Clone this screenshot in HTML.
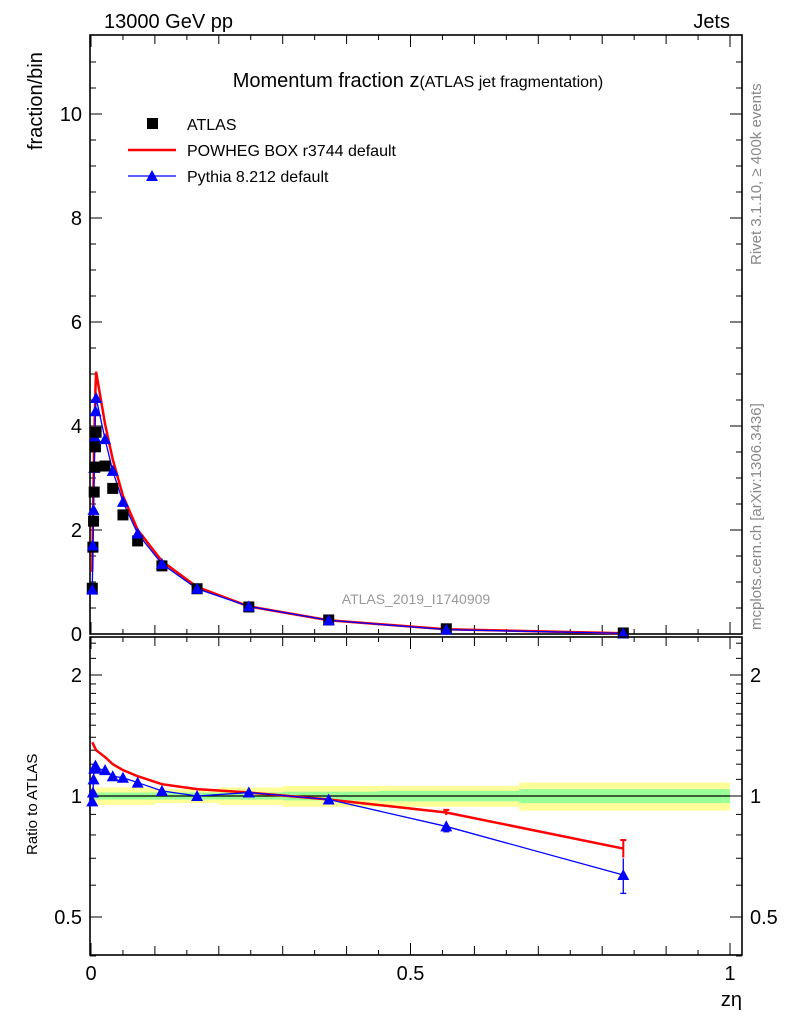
<!DOCTYPE html>
<html><head><meta charset="utf-8"><style>
body{margin:0;background:#fff;}
svg text{font-family:"Liberation Sans",sans-serif;}
</style></head><body>
<svg id="chart" width="786" height="1024" xmlns="http://www.w3.org/2000/svg">
<text x="104" y="28" font-size="20">13000 GeV pp</text>
<text x="730" y="28" font-size="20" text-anchor="end">Jets</text>
<text x="418" y="87" font-size="20" text-anchor="middle">Momentum fraction z<tspan font-size="16">(ATLAS jet fragmentation)</tspan></text>
<text transform="translate(42,150) rotate(-90)" font-size="20" text-anchor="start">fraction/bin</text>
<text transform="translate(37,855) rotate(-90)" font-size="15">Ratio to ATLAS</text>
<text x="742" y="1006" font-size="20" text-anchor="end">zη</text>
<text transform="translate(761,265) rotate(-90)" font-size="15" fill="#888">Rivet 3.1.10, ≥ 400k events</text>
<text transform="translate(761,630) rotate(-90)" font-size="15" fill="#888">mcplots.cern.ch [arXiv:1306.3436]</text>
<text x="416" y="604" font-size="14" fill="#999" text-anchor="middle">ATLAS_2019_I1740909</text>
<g id="main"></g>
<g id="ratio"></g>
<g id="legend">
<rect x="147" y="118" width="11" height="11" fill="#000"/>
<text x="187" y="130" font-size="16">ATLAS</text>
<line x1="128" y1="150" x2="176" y2="150" stroke="red" stroke-width="2.5"/>
<text x="187" y="156" font-size="16">POWHEG BOX r3744 default</text>
<line x1="128" y1="176" x2="176" y2="176" stroke="#00f" stroke-width="1.3"/>
<polygon points="152,170 146,181 158,181" fill="#00f"/>
<text x="187" y="182" font-size="16">Pythia 8.212 default</text>
</g>
</svg>
<script>
const xs=[0.002,0.003,0.004,0.005,0.006,0.007,0.008,0.022,0.034,0.05,0.073,0.111,0.166,0.247,0.372,0.556,0.833];
const atlas=[0.88,1.67,2.17,2.73,3.21,3.6,3.88,3.23,2.8,2.29,1.79,1.31,0.87,0.52,0.27,0.1,0.02];
const ratioPowheg=[1.36,1.35,1.34,1.33,1.32,1.31,1.3,1.25,1.2,1.16,1.12,1.07,1.04,1.02,0.98,0.91,0.74];
const ratioPythia=[0.97,1.02,1.1,1.17,1.18,1.19,1.17,1.16,1.12,1.11,1.08,1.03,1.0,1.02,0.98,0.84,0.636];
const bandEdges=[0,0.1,0.2,0.3,0.45,0.67,1.0];
const bandYellow=[0.05,0.04,0.05,0.06,0.06,0.08];
const bandGreen=[0.02,0.02,0.02,0.025,0.03,0.04];
const yTicks=[0,2,4,6,8,10];
const rTicks=[0.5,1,2];
const xTicks=[0,0.5,1];

const NS="http://www.w3.org/2000/svg";
const X=v=>91+639*v;
const Y=v=>634-52*v;
const R=v=>796-121*Math.log2(v);
function mk(p,t,a){const e=document.createElementNS(NS,t);for(const k in a)e.setAttribute(k,a[k]);p.appendChild(e);return e;}
const main=document.getElementById('main'),ratio=document.getElementById('ratio');
const FL=90,FR=742,MT=35,MB=634,RT=637,RB=955;

for(let i=0;i<bandYellow.length;i++){
  const r1=mk(ratio,'rect',{x:X(bandEdges[i]),width:X(bandEdges[i+1])-X(bandEdges[i]),y:R(1+bandYellow[i]),height:R(1-bandYellow[i])-R(1+bandYellow[i]),fill:'#ffff99'});
  
  
  const r2=mk(ratio,'rect',{x:X(bandEdges[i]),width:X(bandEdges[i+1])-X(bandEdges[i]),y:R(1+bandGreen[i]),height:R(1-bandGreen[i])-R(1+bandGreen[i]),fill:'#99ff99'});
  
  
}
const one=mk(ratio,'line',{x1:X(0),x2:X(1),y1:R(1),y2:R(1),stroke:'#000','stroke-width':1.3});



const f1=mk(main,'rect',{x:FL,y:MT,width:FR-FL,height:MB-MT,fill:'none',stroke:'#000','stroke-width':1.6});


const f2=mk(ratio,'rect',{x:FL,y:RT,width:FR-FL,height:RB-RT,fill:'none',stroke:'#000','stroke-width':1.6});



for(let v=0;v<=11.4;v+=0.5){const big=Math.abs(v-Math.round(v/2)*2)<1e-6;const L=big?12:6;
  mk(main,'line',{x1:FL,x2:FL+L,y1:Y(v),y2:Y(v),stroke:'#000'});mk(main,'line',{x1:FR,x2:FR-L,y1:Y(v),y2:Y(v),stroke:'#000'});}
yTicks.forEach(v=>{const t=mk(main,'text',{x:82,y:Y(v)+7,'font-size':20,'text-anchor':'end'});t.textContent=v;
  
  });
[0.4,0.5,0.6,0.7,0.8,0.9,1,1.1,1.2,1.3,1.4,1.5,1.6,1.7,1.8,1.9,2,2.2,2.4].forEach(v=>{const big=rTicks.includes(v);const L=big?12:6;
  mk(ratio,'line',{x1:FL,x2:FL+L,y1:R(v),y2:R(v),stroke:'#000'});mk(ratio,'line',{x1:FR,x2:FR-L,y1:R(v),y2:R(v),stroke:'#000'});});
rTicks.forEach(v=>{[[82,'end'],[750,'start']].forEach(([x,a])=>{const t=mk(ratio,'text',{x:x,y:R(v)+7,'font-size':20,'text-anchor':a});t.textContent=v;
  
  });});
for(let i=0;i<=20;i++){const v=i*0.05;const big=i%10==0;const mid=i%2==0;const L=big?12:(mid?9:5);
  [[MB,-1],[MT,1],[RB,-1],[RT,1]].forEach(([y,d])=>mk(main,'line',{x1:X(v),x2:X(v),y1:y,y2:y+d*L,stroke:'#000'}));}
xTicks.forEach(v=>{const t=mk(ratio,'text',{x:X(v),y:980,'font-size':20,'text-anchor':'middle'});t.textContent=v;
  
  });

const powheg=xs.map((x,i)=>atlas[i]*ratioPowheg[i]);
const pythia=xs.map((x,i)=>atlas[i]*ratioPythia[i]);
const pr=mk(main,'polyline',{points:xs.map((x,i)=>X(x)+','+Y(powheg[i])).join(' '),fill:'none',stroke:'red','stroke-width':2.5});


const pb=mk(main,'polyline',{points:xs.map((x,i)=>X(x)+','+Y(pythia[i])).join(' '),fill:'none',stroke:'#00f','stroke-width':1.3});


xs.forEach((x,i)=>{
  const s=mk(main,'rect',{x:X(x)-5.5,y:Y(atlas[i])-5.5,width:11,height:11,fill:'#000'});
  
  
  const px=X(x),py=Y(pythia[i]);
  const t=mk(main,'polygon',{points:`${px},${py-6} ${px-6},${py+5} ${px+6},${py+5}`,fill:'#00f'});
  
  
});
const rr=mk(ratio,'polyline',{points:xs.map((x,i)=>X(x)+','+R(ratioPowheg[i])).join(' '),fill:'none',stroke:'red','stroke-width':2.5});


const rb=mk(ratio,'polyline',{points:xs.map((x,i)=>X(x)+','+R(ratioPythia[i])).join(' '),fill:'none',stroke:'#00f','stroke-width':1.3});


xs.forEach((x,i)=>{
  const px=X(x),py=R(ratioPythia[i]);
  if(i>=15){const e=i==16?0.1:0.03;
    mk(ratio,'line',{x1:px,x2:px,y1:R(ratioPowheg[i]*(1+e*0.5)),y2:R(ratioPowheg[i]*(1-e*0.5)),stroke:'red','stroke-width':2});
    mk(ratio,'line',{x1:px-3,x2:px+3,y1:R(ratioPowheg[i]*(1+e*0.5)),y2:R(ratioPowheg[i]*(1+e*0.5)),stroke:'red','stroke-width':2});
    mk(ratio,'line',{x1:px,x2:px,y1:R(ratioPythia[i]*(1+e)),y2:R(ratioPythia[i]*(1-e)),stroke:'#00f','stroke-width':1.3});
    mk(ratio,'line',{x1:px-3,x2:px+3,y1:R(ratioPythia[i]*(1-e)),y2:R(ratioPythia[i]*(1-e)),stroke:'#00f','stroke-width':1.3});}
  const t=mk(ratio,'polygon',{points:`${px},${py-6} ${px-6},${py+5} ${px+6},${py+5}`,fill:'#00f'});
  
  
});
</script>
</body></html>
